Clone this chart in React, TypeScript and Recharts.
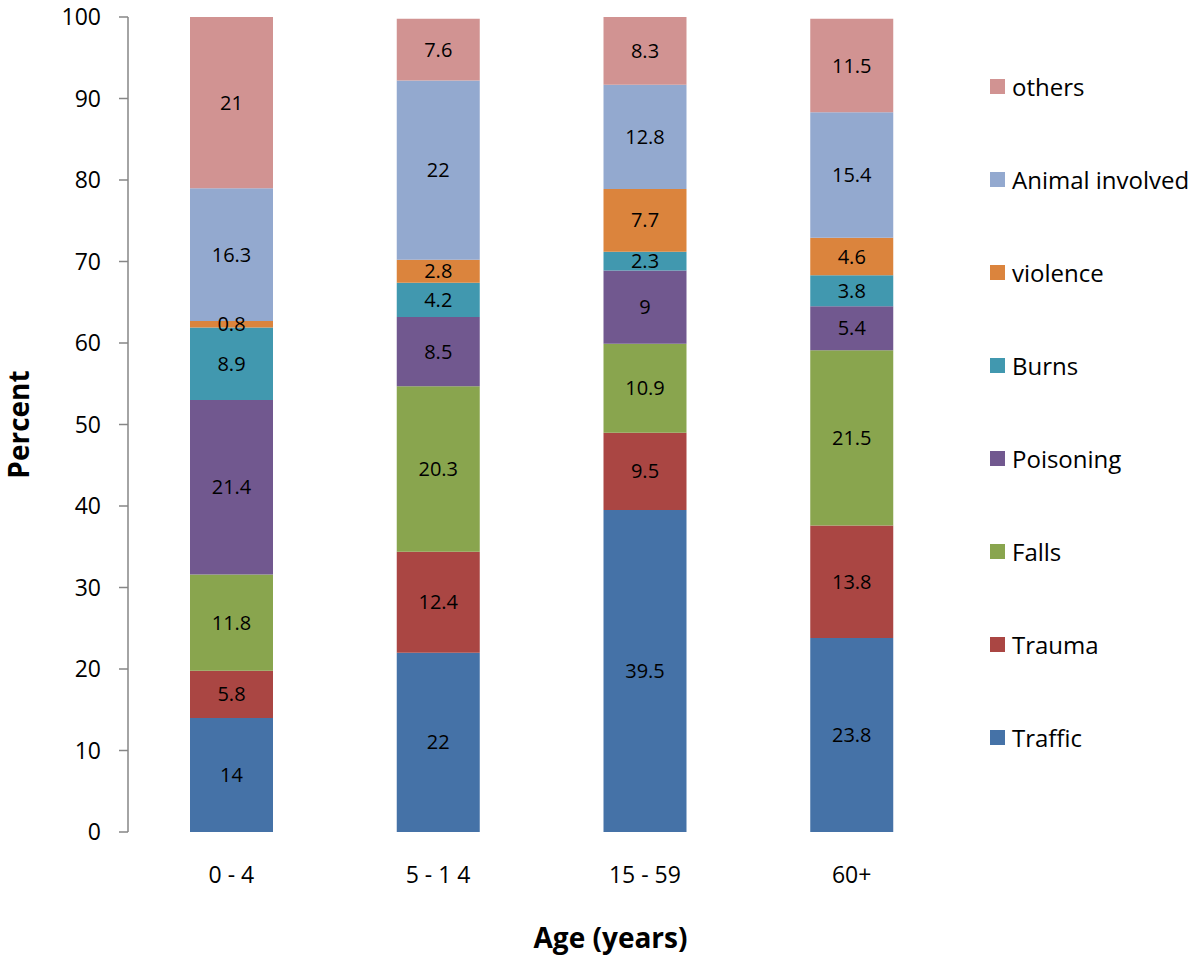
import { BarChart, Bar, XAxis, YAxis, Legend, LabelList, Label } from 'recharts'

const ageGroups = ['0 - 4', '5 - 1 4', '15 - 59', '60+']

// bottom to top of each stack
const traffic = [14, 22, 39.5, 23.8]
const trauma = [5.8, 12.4, 9.5, 13.8]
const falls = [11.8, 20.3, 10.9, 21.5]
const poisoning = [21.4, 8.5, 9, 5.4]
const burns = [8.9, 4.2, 2.3, 3.8]
const violence = [0.8, 2.8, 7.7, 4.6]
const animal = [16.3, 22, 12.8, 15.4]
const others = [21, 7.6, 8.3, 11.5]

const yTicks = [0, 10, 20, 30, 40, 50, 60, 70, 80, 90, 100]
const edgeTicks = [0, 1, 2, 3, 4]

const series = [
  { key: 'Traffic', values: traffic, color: '#4572A7' },
  { key: 'Trauma', values: trauma, color: '#AA4643' },
  { key: 'Falls', values: falls, color: '#89A54E' },
  { key: 'Poisoning', values: poisoning, color: '#71588F' },
  { key: 'Burns', values: burns, color: '#4198AF' },
  { key: 'violence', values: violence, color: '#DB843D' },
  { key: 'Animal involved', values: animal, color: '#93A9CF' },
  { key: 'others', values: others, color: '#D19392' },
]

const chartData = ageGroups.map((age, i) => {
  const row: Record<string, any> = { age }
  series.forEach(s => { row[s.key] = s.values[i] })
  return row
})

const FONT = '"Open Sans", sans-serif'
const AXIS = '#868686'

function LegendBox() {
  return (
    <div style={{ display: 'flex', flexDirection: 'column' }}>
      {[...series].reverse().map(s => (
        <div key={s.key} style={{ height: 93, display: 'flex', alignItems: 'center' }}>
          <span style={{ width: 15, height: 15, background: s.color, marginRight: 7, display: 'inline-block' }} />
          <span style={{ fontSize: 24, color: '#000', whiteSpace: 'nowrap' }}>{s.key}</span>
        </div>
      ))}
    </div>
  )
}

export default function App() {
  return (
    <div style={{ position: 'absolute', left: 0, top: 0, fontFamily: FONT, background: '#fff' }}>
      <BarChart width={1200} height={967} data={chartData} margin={{ top: 17, right: 245, bottom: 75, left: 0 }}>
        <XAxis
          xAxisId="edge"
          type="number"
          domain={[0, 4]}
          ticks={edgeTicks}
          height={0}
          tickSize={9}
          tickFormatter={() => ''}
          stroke={AXIS}
          axisLine={{ stroke: AXIS, strokeWidth: 1.5 }}
          tickLine={{ stroke: AXIS, strokeWidth: 1.5 }}
        />
        <XAxis
          xAxisId="cat"
          dataKey="age"
          height={60}
          axisLine={false}
          tickLine={false}
          tickSize={0}
          tickMargin={35}
          tick={{ fill: '#000', fontSize: 23, fontFamily: FONT }}
        >
          <Label value="Age (years)" position="bottom" offset={36} dx={69} style={{ fontSize: 28, fontWeight: 700, fill: '#000', fontFamily: FONT }} />
        </XAxis>
        <YAxis
          width={128}
          domain={[0, 100]}
          ticks={yTicks}
          tickSize={9}
          tickMargin={18}
          axisLine={{ stroke: AXIS, strokeWidth: 1.5 }}
          tickLine={{ stroke: AXIS, strokeWidth: 1.5 }}
          tick={{ fill: '#000', fontSize: 23, fontFamily: FONT }}
        >
          <Label value="Percent" angle={-90} position="center" dx={-45} style={{ fontSize: 28, fontWeight: 700, fill: '#000', fontFamily: FONT }} />
        </YAxis>
        <Legend
          layout="horizontal"
          align="center"
          verticalAlign="middle"
          content={() => <LegendBox />}
          wrapperStyle={{ left: 990, top: 40, width: 210, height: 744 }}
        />
        {series.map(s => (
          <Bar key={s.key} xAxisId="cat" dataKey={s.key} stackId="a" fill={s.color} barSize={83} isAnimationActive={false}>
            <LabelList dataKey={s.key} position="center" fill="#000" fontSize={20} fontFamily={FONT} />
          </Bar>
        ))}
      </BarChart>
    </div>
  )
}
